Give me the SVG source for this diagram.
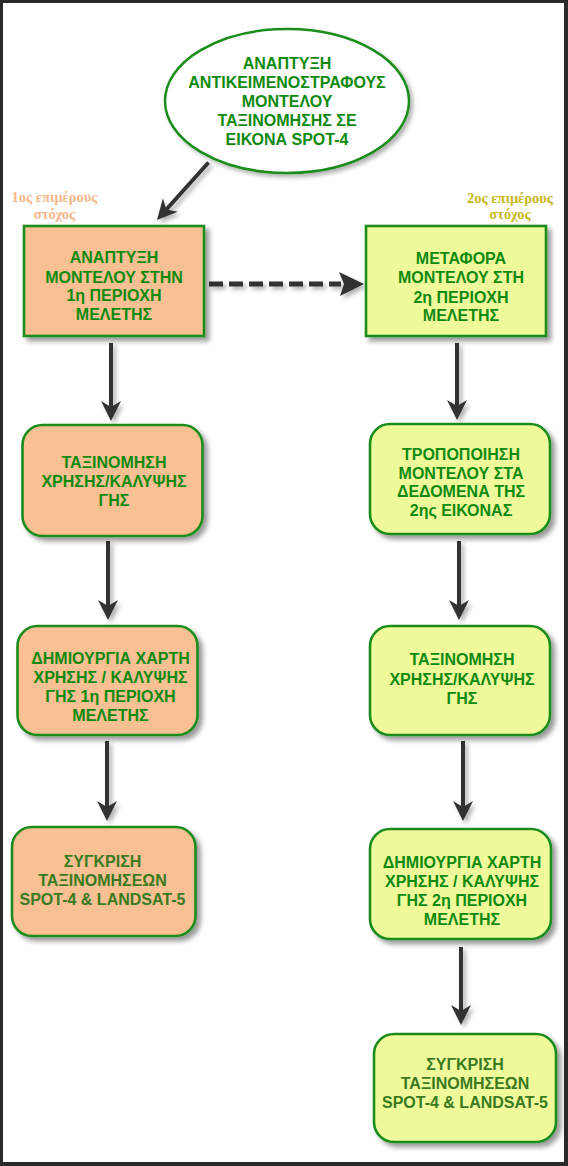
<svg xmlns="http://www.w3.org/2000/svg" width="568" height="1166" viewBox="0 0 568 1166">
<style>
.t{font-family:"Liberation Sans",Arial,sans-serif;font-weight:bold;font-size:16px;fill:#0f8a0f;text-anchor:middle}
.d{fill:#3b7a1f}
.lab{font-family:"Liberation Serif","Times New Roman",serif;font-size:14.5px;font-weight:bold;text-anchor:middle}
.or{fill:#f9c093;stroke:#1a8c1a;stroke-width:2.6;filter:url(#sh)}
.ye{fill:#effa9b;stroke:#1a8c1a;stroke-width:2.6;filter:url(#sh)}
.ar{stroke:#333;stroke-width:4;fill:none;marker-end:url(#ah)}
</style>
<defs>
<filter id="sh" x="-20%" y="-20%" width="150%" height="150%">
<feDropShadow dx="4" dy="4" stdDeviation="2.5" flood-color="#000" flood-opacity="0.4"/>
</filter>
<filter id="sh2" x="-20%" y="-20%" width="150%" height="150%">
<feDropShadow dx="3" dy="3" stdDeviation="2" flood-color="#000" flood-opacity="0.3"/>
</filter>
<marker id="ah" markerUnits="userSpaceOnUse" viewBox="0 -11 21 22" refX="8" refY="0" markerWidth="21" markerHeight="22" orient="auto">
<path d="M0,-10 L20,0 L0,10 L6,0 Z" fill="#333"/>
</marker>
</defs>
<rect width="568" height="1166" fill="#fff"/>
<path d="M0 0H568V1166H0Z M3 3V1162H564V3Z" fill="#2a2a2a" fill-rule="evenodd"/>

<g id="connectors" filter="url(#sh2)">
<line class="ar" x1="208.5" y1="162.5" x2="165" y2="211"/>
<line x1="209" y1="284" x2="341" y2="284" stroke="#333" stroke-width="5" stroke-dasharray="14 6"/>
<path d="M339,272 L364,284 L340,296 L344,284 Z" fill="#333"/>
<line class="ar" x1="111" y1="343" x2="111" y2="409"/>
<line class="ar" x1="108" y1="541" x2="108" y2="608"/>
<line class="ar" x1="107" y1="741" x2="107" y2="809"/>
<line class="ar" x1="457" y1="343" x2="457" y2="408"/>
<line class="ar" x1="459" y1="541" x2="459" y2="608"/>
<line class="ar" x1="463" y1="741" x2="463" y2="809"/>
<line class="ar" x1="461" y1="947" x2="461" y2="1013"/>
</g>

<g id="start">
<ellipse cx="287" cy="101" rx="122" ry="72" fill="#fff" stroke="#1a8c1a" stroke-width="2.5" filter="url(#sh2)"/>
<text class="t" x="287" y="69">ΑΝΑΠΤΥΞΗ</text>
<text class="t" x="287" y="88">ΑΝΤΙΚΕΙΜΕΝΟΣΤΡΑΦΟΥΣ</text>
<text class="t" x="287" y="107">ΜΟΝΤΕΛΟΥ</text>
<text class="t" x="287" y="126">ΤΑΞΙΝΟΜΗΣΗΣ ΣΕ</text>
<text class="t" x="287" y="145">ΕΙΚΟΝΑ SPOT-4</text>
</g>

<g id="label1">
<text class="lab" x="54.5" y="202" fill="#f5b88a">1ος επιμέρους</text>
<text class="lab" x="54.5" y="219" fill="#f5b88a">στόχος</text>
</g>
<g id="label2">
<text class="lab" x="510" y="203" fill="#c8b820">2ος επιμέρους</text>
<text class="lab" x="510" y="219" fill="#c8b820">στόχος</text>
</g>

<g id="box1">
<rect class="or" x="24" y="226" width="180" height="110"/>
<text class="t" x="114" y="263">ΑΝΑΠΤΥΞΗ</text>
<text class="t" x="114" y="282.5">ΜΟΝΤΕΛΟΥ ΣΤΗΝ</text>
<text class="t" x="114" y="301">1η ΠΕΡΙΟΧΗ</text>
<text class="t" x="114" y="319.5">ΜΕΛΕΤΗΣ</text>
</g>

<g id="box2">
<rect class="ye" x="366" y="226" width="180" height="110"/>
<text class="t" x="461" y="264">ΜΕΤΑΦΟΡΑ</text>
<text class="t" x="461" y="283">ΜΟΝΤΕΛΟΥ ΣΤΗ</text>
<text class="t" x="461" y="302.5">2η ΠΕΡΙΟΧΗ</text>
<text class="t" x="461" y="321">ΜΕΛΕΤΗΣ</text>
</g>

<g id="left2">
<rect class="or" x="22.5" y="425" width="180" height="111" rx="20"/>
<text class="t" x="114" y="467.5">ΤΑΞΙΝΟΜΗΣΗ</text>
<text class="t" x="114" y="486.5">ΧΡΗΣΗΣ/ΚΑΛΥΨΗΣ</text>
<text class="t" x="114" y="505.5">ΓΗΣ</text>
</g>

<g id="left3">
<rect class="or" x="17.5" y="626" width="180" height="109" rx="20"/>
<text class="t" x="110.5" y="663.5">ΔΗΜΙΟΥΡΓΙΑ ΧΑΡΤΗ</text>
<text class="t" x="110.5" y="682.5">ΧΡΗΣΗΣ / ΚΑΛΥΨΗΣ</text>
<text class="t" x="110.5" y="701.5">ΓΗΣ 1η ΠΕΡΙΟΧΗ</text>
<text class="t" x="110.5" y="720.5">ΜΕΛΕΤΗΣ</text>
</g>

<g id="left4">
<rect class="or" x="12" y="827" width="183.5" height="109" rx="20"/>
<text class="t d" x="102.5" y="867">ΣΥΓΚΡΙΣΗ</text>
<text class="t d" x="102.5" y="886">ΤΑΞΙΝΟΜΗΣΕΩΝ</text>
<text class="t d" x="102.5" y="904.5">SPOT-4 &amp; LANDSAT-5</text>
</g>

<g id="right2">
<rect class="ye" x="370" y="424" width="180" height="110" rx="20"/>
<text class="t" x="461" y="459.5">ΤΡΟΠΟΠΟΙΗΣΗ</text>
<text class="t" x="461" y="478.5">ΜΟΝΤΕΛΟΥ ΣΤΑ</text>
<text class="t" x="461" y="497">ΔΕΔΟΜΕΝΑ ΤΗΣ</text>
<text class="t" x="461" y="516">2ης ΕΙΚΟΝΑΣ</text>
</g>

<g id="right3">
<rect class="ye" x="370" y="626" width="180" height="109" rx="20"/>
<text class="t" x="462" y="665">ΤΑΞΙΝΟΜΗΣΗ</text>
<text class="t" x="462" y="684.5">ΧΡΗΣΗΣ/ΚΑΛΥΨΗΣ</text>
<text class="t" x="462" y="703.5">ΓΗΣ</text>
</g>

<g id="right4">
<rect class="ye" x="370" y="829" width="181" height="110" rx="20"/>
<text class="t" x="462" y="867.5">ΔΗΜΙΟΥΡΓΙΑ ΧΑΡΤΗ</text>
<text class="t" x="462" y="886.5">ΧΡΗΣΗΣ / ΚΑΛΥΨΗΣ</text>
<text class="t" x="462" y="905.5">ΓΗΣ 2η ΠΕΡΙΟΧΗ</text>
<text class="t" x="462" y="924.5">ΜΕΛΕΤΗΣ</text>
</g>

<g id="right5">
<rect class="ye" x="374" y="1034" width="182" height="108" rx="20"/>
<text class="t d" x="465" y="1070">ΣΥΓΚΡΙΣΗ</text>
<text class="t d" x="465" y="1089">ΤΑΞΙΝΟΜΗΣΕΩΝ</text>
<text class="t d" x="465" y="1108">SPOT-4 &amp; LANDSAT-5</text>
</g>
</svg>
